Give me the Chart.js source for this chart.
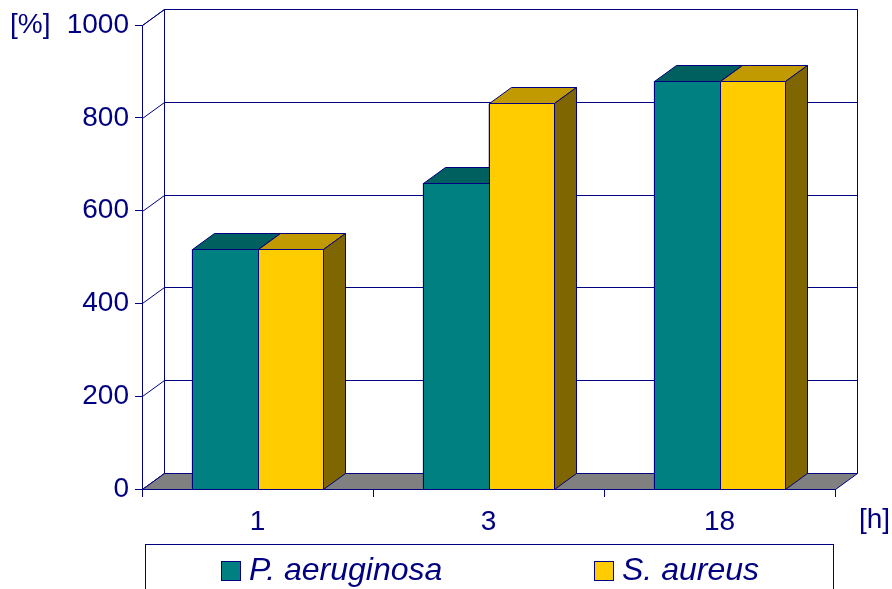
<!DOCTYPE html>
<html>
<head>
<meta charset="utf-8">
<script src="https://cdn.jsdelivr.net/npm/chart.js@4/dist/chart.umd.min.js"></script>
<style>
  body { margin: 0; background: #fff; }
  canvas { display: block; }
</style>
</head>
<body>
<canvas id="barChart" width="892" height="589"></canvas>
<script>
var hours = ["1", "3", "18"];
var pAeruginosa = [517, 660, 880];
var sAureus = [517, 831, 880];
var yTicks = [0, 200, 400, 600, 800, 1000];

var navy = "#000080";
var fontFamily = "'Liberation Sans', Arial, sans-serif";
var dx = 22, dy = -16; // depth of the 3D box

// colours for front, top and side faces of each series
var faces = [
    { front: "#008080", top: "#006060", side: "#004d4d" },
    { front: "#ffcc00", top: "#c09a00", side: "#806600" }
];

function px(v) { return Math.round(v) + 0.5; }

function poly(ctx, pts, fill) {
    ctx.beginPath();
    ctx.moveTo(pts[0][0], pts[0][1]);
    for (var i = 1; i < pts.length; i++) ctx.lineTo(pts[i][0], pts[i][1]);
    ctx.closePath();
    ctx.fillStyle = fill;
    ctx.fill();
    ctx.stroke();
}

var threeD = {
    id: "threeD",
    beforeDatasetsDraw: function (chart) {
        var ctx = chart.ctx, a = chart.chartArea, y = chart.scales.y;
        var L = px(a.left), R = px(a.right), T = px(a.top), B = px(a.bottom);
        ctx.save();
        ctx.strokeStyle = navy;
        ctx.lineWidth = 1;
        // back wall
        poly(ctx, [[L + dx, T + dy], [R + dx, T + dy], [R + dx, B + dy], [L + dx, B + dy]], "#ffffff");
        // side wall
        poly(ctx, [[L, T], [L + dx, T + dy], [L + dx, B + dy], [L, B]], "#ffffff");
        // grid lines
        ctx.beginPath();
        yTicks.forEach(function (v) {
            var yy = px(y.getPixelForValue(v));
            ctx.moveTo(L, yy);
            ctx.lineTo(L + dx, yy + dy);
            ctx.lineTo(R + dx, yy + dy);
        });
        ctx.stroke();
        // floor
        poly(ctx, [[L, B], [R, B], [R + dx, B + dy], [L + dx, B + dy]], "#808080");
        ctx.restore();
    },
    afterDatasetsDraw: function (chart) {
        var ctx = chart.ctx;
        ctx.save();
        ctx.strokeStyle = navy;
        ctx.lineWidth = 1;
        for (var i = 0; i < hours.length; i++) {
            for (var d = 0; d < chart.data.datasets.length; d++) {
                var bar = chart.getDatasetMeta(d).data[i];
                var p = bar.getProps(["x", "y", "base", "width"], true);
                var x1 = px(p.x - p.width / 2), x2 = px(p.x + p.width / 2);
                var top = px(p.y), base = px(p.base);
                var f = faces[d];
                poly(ctx, [[x1, top], [x2, top], [x2 + dx, top + dy], [x1 + dx, top + dy]], f.top);
                poly(ctx, [[x2, top], [x2 + dx, top + dy], [x2 + dx, base + dy], [x2, base]], f.side);
                poly(ctx, [[x1, top], [x2, top], [x2, base], [x1, base]], f.front);
            }
        }
        ctx.restore();
    },
    afterDraw: function (chart) {
        var ctx = chart.ctx, a = chart.chartArea;
        ctx.save();
        ctx.fillStyle = navy;
        ctx.textBaseline = "middle";
        ctx.textAlign = "left";
        ctx.font = "28px " + fontFamily;
        ctx.fillText("[%]", 10, a.top);
        ctx.fillText("[h]", 859, 520);

        // legend
        ctx.strokeStyle = navy;
        ctx.lineWidth = 1;
        ctx.strokeRect(145.5, 544.5, 688, 60);
        var itemX = [221, 594];
        ctx.font = "italic 32px " + fontFamily;
        ctx.textBaseline = "alphabetic";
        chart.data.datasets.forEach(function (ds, k) {
            ctx.fillStyle = ds.backgroundColor;
            ctx.fillRect(itemX[k] + 0.5, 561.5, 19, 19);
            ctx.strokeRect(itemX[k] + 0.5, 561.5, 19, 19);
            ctx.fillStyle = navy;
            ctx.fillText(ds.label, itemX[k] + 28, 580);
        });
        ctx.restore();
    }
};

var ctx = document.getElementById("barChart");

var data = {
    labels: hours,
    datasets: [
        {
            label: "P. aeruginosa",
            backgroundColor: faces[0].front,
            borderColor: navy,
            borderWidth: 1,
            data: pAeruginosa
        },
        {
            label: "S. aureus",
            backgroundColor: faces[1].front,
            borderColor: navy,
            borderWidth: 1,
            data: sAureus
        }
    ]
};

var options = {
    responsive: false,
    animation: false,
    devicePixelRatio: 1,
    layout: { padding: { left: 0, right: 57, top: 25, bottom: 0 } },
    plugins: { legend: { display: false }, tooltip: { enabled: false } },
    datasets: { bar: { categoryPercentage: 0.57, barPercentage: 1 } },
    scales: {
        x: {
            afterFit: function (scale) { scale.height = 100; },
            grid: { drawOnChartArea: false, tickLength: 8, color: navy, offset: true },
            border: { display: true, color: navy },
            ticks: { color: navy, padding: 8, font: { family: fontFamily, size: 28 } }
        },
        y: {
            min: 0,
            max: 1000,
            afterFit: function (scale) { scale.width = 142; },
            afterBuildTicks: function (scale) {
                scale.ticks = yTicks.map(function (v) { return { value: v }; });
            },
            grid: { drawOnChartArea: false, tickLength: 7, color: navy },
            border: { display: true, color: navy },
            ticks: {
                color: navy,
                padding: 6,
                font: { family: fontFamily, size: 28 },
                callback: function (value) { return String(value); }
            }
        }
    }
};

var barChart = new Chart(ctx, {
    type: "bar",
    data: data,
    options: options,
    plugins: [threeD]
});
</script>
</body>
</html>
